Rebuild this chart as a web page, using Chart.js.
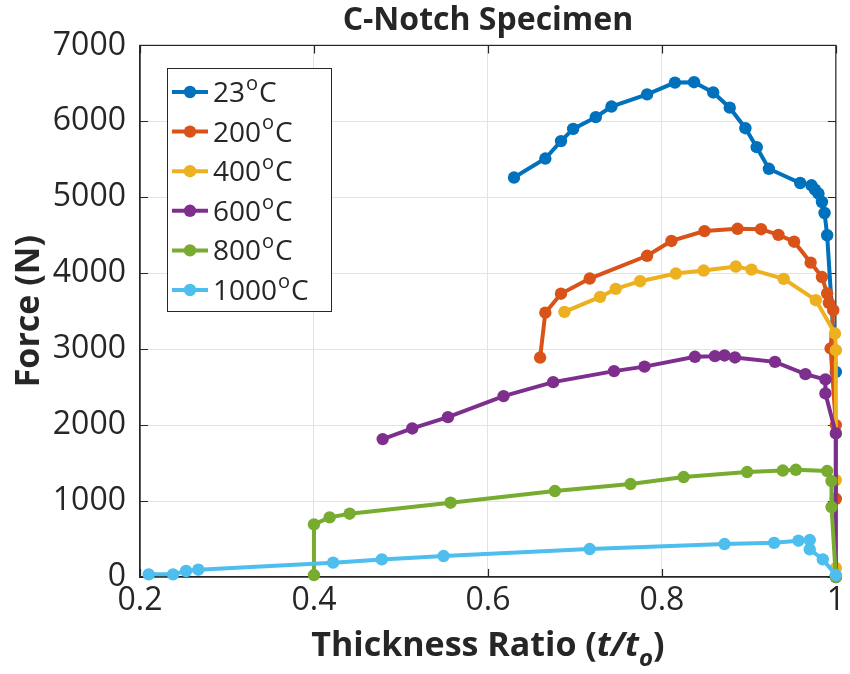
<!DOCTYPE html>
<html>
<head>
<meta charset="utf-8">
<script src="https://cdn.jsdelivr.net/npm/chart.js@4.4.1/dist/chart.umd.min.js"></script>
<style>
  html, body { margin: 0; padding: 0; background: #ffffff; }
  #wrap { width: 850px; height: 674px; position: relative; }
</style>
</head>
<body>
<div id="wrap"><canvas id="c" width="850" height="674"></canvas></div>
<script>
// ---- data ----
const seriesLabels = ['23', '200', '400', '600', '800', '1000'];
const seriesColors = ['#0072BD', '#D95319', '#EDB120', '#7E2F8E', '#77AC30', '#4DBEEE'];

const ratio23 = [0.630, 0.666, 0.684, 0.698, 0.724, 0.742, 0.783, 0.815, 0.837, 0.859, 0.878, 0.896, 0.909, 0.923, 0.959, 0.972, 0.976, 0.980, 0.984, 0.987, 0.990, 1.000];
const force23 = [5260, 5510, 5740, 5900, 6055, 6195, 6355, 6510, 6515, 6380, 6180, 5910, 5660, 5375, 5188, 5158, 5100, 5049, 4938, 4793, 4500, 2700];

const ratio200 = [0.660, 0.666, 0.684, 0.717, 0.783, 0.811, 0.849, 0.887, 0.914, 0.934, 0.952, 0.971, 0.984, 0.990, 0.992, 0.997, 0.994, 1.000, 1.000];
const force200 = [2890, 3480, 3730, 3930, 4230, 4425, 4555, 4585, 4580, 4505, 4415, 4140, 3950, 3733, 3609, 3513, 3009, 2000, 1030];

const ratio400 = [0.688, 0.729, 0.747, 0.775, 0.816, 0.848, 0.885, 0.903, 0.940, 0.977, 0.999, 1.000, 1.000, 1.000];
const force400 = [3490, 3688, 3794, 3895, 3996, 4035, 4088, 4048, 3925, 3645, 3206, 2987, 1276, 118];

const ratio600 = [0.479, 0.513, 0.554, 0.618, 0.675, 0.745, 0.780, 0.838, 0.861, 0.872, 0.884, 0.930, 0.965, 0.988, 0.988, 1.000, 1.000];
const force600 = [1816, 1956, 2105, 2382, 2566, 2711, 2770, 2900, 2908, 2917, 2891, 2833, 2671, 2601, 2417, 1890, 0];

const ratio800 = [0.400, 0.400, 0.418, 0.441, 0.557, 0.677, 0.764, 0.825, 0.898, 0.939, 0.954, 0.990, 0.995, 0.995, 1.000];
const force800 = [26, 693, 785, 833, 978, 1132, 1224, 1316, 1382, 1402, 1412, 1395, 1263, 921, 0];

const ratio1000 = [0.210, 0.238, 0.253, 0.267, 0.422, 0.478, 0.549, 0.717, 0.872, 0.929, 0.957, 0.970, 0.970, 0.985, 1.000];
const force1000 = [35, 35, 79, 96, 189, 232, 276, 368, 434, 450, 478, 487, 364, 232, 26];

const xTicks = [0.2, 0.4, 0.6, 0.8, 1.0];
const yTicks = [0, 1000, 2000, 3000, 4000, 5000, 6000, 7000];

const allRatios = [ratio23, ratio200, ratio400, ratio600, ratio800, ratio1000];
const allForces = [force23, force200, force400, force600, force800, force1000];

const FONT = "'Open Sans', 'DejaVu Sans', sans-serif";
const INK = '#262626';

const datasets = seriesLabels.map((lab, i) => ({
  label: lab + '\u00B0C',
  data: allRatios[i].map((r, k) => ({ x: r, y: allForces[i][k] })),
  borderColor: seriesColors[i],
  backgroundColor: seriesColors[i],
  borderWidth: 4,
  pointRadius: 6.2,
  pointBorderWidth: 0,
  pointHoverRadius: 6.2,
  tension: 0,
  clip: false,
  order: seriesLabels.length - i
}));

// box + inward ticks
const boxPlugin = {
  id: 'boxPlugin',
  beforeDatasetsDraw(chart) {
    const { ctx, chartArea: a, scales } = chart;
    ctx.save();
    ctx.strokeStyle = INK;
    ctx.lineWidth = 1.2;
    ctx.strokeRect(a.left, a.top, a.right - a.left, a.bottom - a.top);
    const L = 8;
    ctx.beginPath();
    xTicks.forEach(v => {
      const px = Math.round(scales.x.getPixelForValue(v)) + 0.5;
      ctx.moveTo(px, a.bottom); ctx.lineTo(px, a.bottom - L);
      ctx.moveTo(px, a.top); ctx.lineTo(px, a.top + L);
    });
    yTicks.forEach(v => {
      const py = Math.round(scales.y.getPixelForValue(v)) + 0.5;
      ctx.moveTo(a.left, py); ctx.lineTo(a.left + L, py);
      ctx.moveTo(a.right, py); ctx.lineTo(a.right - L, py);
    });
    ctx.stroke();
    ctx.restore();
  }
};

// legend box inside plot (MATLAB style) with superscript "o"
const legendPlugin = {
  id: 'matLegend',
  afterDraw(chart) {
    const ctx = chart.ctx;
    const bx = 167, by = 68, bw = 164, bh = 243;
    ctx.save();
    ctx.fillStyle = '#ffffff';
    ctx.fillRect(bx, by, bw, bh);
    ctx.strokeStyle = INK;
    ctx.lineWidth = 1;
    ctx.strokeRect(bx + 0.5, by + 0.5, bw, bh);
    chart.data.datasets.forEach((ds, i) => {
      const y = 92 + i * 39.6;
      ctx.strokeStyle = ds.borderColor;
      ctx.lineWidth = 4;
      ctx.beginPath(); ctx.moveTo(172, y); ctx.lineTo(208, y); ctx.stroke();
      ctx.fillStyle = ds.borderColor;
      ctx.beginPath(); ctx.arc(190, y, 6.2, 0, Math.PI * 2); ctx.fill();
      ctx.fillStyle = INK;
      ctx.textBaseline = 'middle';
      ctx.textAlign = 'left';
      ctx.font = '28px ' + FONT;
      const num = seriesLabels[i];
      ctx.fillText(num, 213, y + 2);
      let x = 213 + ctx.measureText(num).width + 1;
      ctx.font = '20px ' + FONT;
      ctx.fillText('o', x, y - 8);
      x += ctx.measureText('o').width + 1;
      ctx.font = '28px ' + FONT;
      ctx.fillText('C', x, y + 2);
    });
    ctx.restore();
  }
};

// x-axis title with italic t/t and subscript o
const xTitlePlugin = {
  id: 'xTitle',
  afterDraw(chart) {
    const ctx = chart.ctx;
    const a = chart.chartArea;
    const cx = (a.left + a.right) / 2;
    const y = 646;
    const parts = [
      { t: 'Thickness Ratio (', f: 'bold 34px ' + FONT, dy: 0 },
      { t: 't/t', f: 'italic bold 34px ' + FONT, dy: 0 },
      { t: 'o', f: 'italic bold 24px ' + FONT, dy: 13 },
      { t: ')', f: 'bold 34px ' + FONT, dy: 0 }
    ];
    ctx.save();
    ctx.fillStyle = INK;
    ctx.textBaseline = 'middle';
    ctx.textAlign = 'left';
    let total = 0;
    parts.forEach(p => { ctx.font = p.f; p.w = ctx.measureText(p.t).width; total += p.w; });
    let x = cx - total / 2;
    parts.forEach(p => { ctx.font = p.f; ctx.fillText(p.t, x, y + p.dy); x += p.w; });
    ctx.restore();
  }
};

new Chart(document.getElementById('c'), {
  type: 'line',
  data: { datasets },
  options: {
    responsive: false,
    animation: false,
    devicePixelRatio: 1,
    layout: { padding: { left: 0, right: 11, top: 0, bottom: 0 } },
    plugins: {
      legend: { display: false },
      tooltip: { enabled: false },
      title: {
        display: true,
        fullSize: false,
        text: 'C-Notch Specimen',
        color: INK,
        font: { family: FONT, size: 32, weight: 'bold' },
        padding: { top: 2, bottom: 5 }
      }
    },
    scales: {
      x: {
        type: 'linear',
        min: 0.2, max: 1.0,
        afterFit(s) { s.height = 97; },
        afterBuildTicks(s) { s.ticks = xTicks.map(v => ({ value: v })); },
        ticks: {
          color: INK,
          font: { family: FONT, size: 32 },
          padding: 5,
          maxRotation: 0,
          callback: v => (v === 1 ? '1' : v.toFixed(1))
        },
        grid: { color: '#e3e3e3', lineWidth: 1, drawTicks: false },
        border: { display: true, color: INK, width: 1.2 }
      },
      y: {
        type: 'linear',
        min: 0, max: 7000,
        afterFit(s) { s.width = 140; },
        afterBuildTicks(s) { s.ticks = yTicks.map(v => ({ value: v })); },
        ticks: {
          color: INK,
          font: { family: FONT, size: 32 },
          padding: 14,
          callback: v => String(v)
        },
        title: {
          display: true,
          text: 'Force (N)',
          color: INK,
          font: { family: FONT, size: 34, weight: 'bold' },
          padding: { top: 9, bottom: 0 }
        },
        grid: { color: '#e3e3e3', lineWidth: 1, drawTicks: false },
        border: { display: true, color: INK, width: 1.2 }
      }
    }
  },
  plugins: [boxPlugin, legendPlugin, xTitlePlugin]
});
</script>
</body>
</html>
